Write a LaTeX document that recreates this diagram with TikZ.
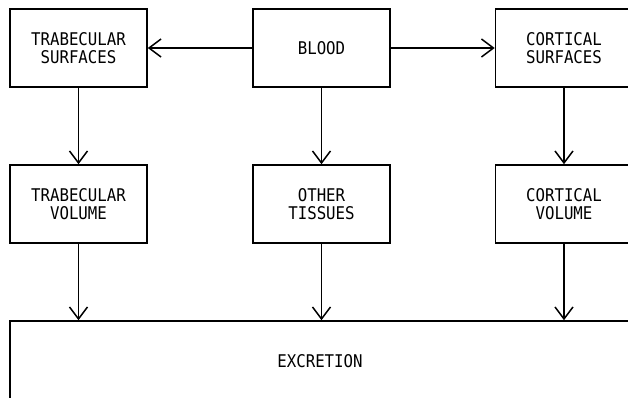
\documentclass[tikz,border=0pt]{standalone}
\usepackage{fontspec}
\setmonofont[FakeStretch=0.9]{DejaVu Sans Mono}
\usetikzlibrary{arrows.meta}
\begin{document}
\begin{tikzpicture}[x=1pt,y=-1pt,
  box/.style={draw, line width=1.6pt, minimum width=137pt, minimum height=78pt,
    align=center, inner sep=0pt, font=\ttfamily\fontsize{17.5}{18}\selectfont},
  arr/.style={line width=1.5pt, -{Straight Barb[length=12pt,width=18pt,line width=1.5pt]}}]
\useasboundingbox (0,0) rectangle (628,397);
\clip (0,0) rectangle (628,397);
\node[box] (ts) at (78.5,48) {TRABECULAR\\SURFACES};
\node[box] (bl) at (321.5,48) {BLOOD};
\node[box] (cs) at (564,48) {CORTICAL\\SURFACES};
\node[box] (tv) at (78.5,204) {TRABECULAR\\VOLUME};
\node[box] (ot) at (321.5,204) {OTHER\\TISSUES};
\node[box] (cv) at (564,204) {CORTICAL\\VOLUME};
\node[box, minimum width=620pt, minimum height=80pt] (ex) at (320,361) {EXCRETION};
\draw[arr] (bl.west) -- (ts.east);
\draw[arr] (bl.east) -- (cs.west);
\draw[arr] (ts.south) -- (tv.north);
\draw[arr] (bl.south) -- (ot.north);
\draw[arr] (cs.south) -- (cv.north);
\draw[arr] (tv.south) -- (tv.south |- ex.north);
\draw[arr] (ot.south) -- (ot.south |- ex.north);
\draw[arr] (cv.south) -- (cv.south |- ex.north);
\end{tikzpicture}
\end{document}
